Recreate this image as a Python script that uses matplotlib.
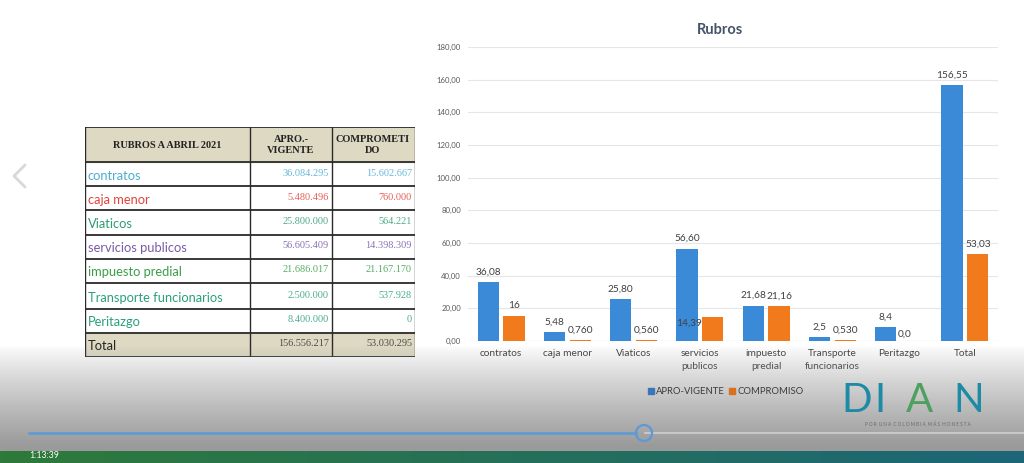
import matplotlib
matplotlib.use("Agg")
import matplotlib.pyplot as plt
from matplotlib.patches import Rectangle, Circle
import numpy as np

# chart data (millions)
categorias = ["contratos", "caja menor", "Viaticos", "servicios\npublicos",
              "impuesto\npredial", "Transporte\nfuncionarios", "Peritazgo", "Total"]
apro_vigente = [36.08, 5.48, 25.80, 56.60, 21.68, 2.5, 8.4, 156.55]
compromiso = [15.60, 0.760, 0.560, 14.39, 21.16, 0.530, 0.0, 53.03]
apro_labels = ["36,08", "5,48", "25,80", "56,60", "21,68", "2,5", "8,4", "156,55"]
comp_labels = ["16", "0,760", "0,560", "14,39", "21,16", "0,530", "0,0", "53,03"]
yticks = [0, 20, 40, 60, 80, 100, 120, 140, 160, 180]

# table data
rubros = ["contratos", "caja menor", "Viaticos", "servicios publicos",
          "impuesto predial", "Transporte funcionarios", "Peritazgo", "Total"]
tabla_apro = ["36.084.295", "5.480.496", "25.800.000", "56.605.409",
              "21.686.017", "2.500.000", "8.400.000", "156.556.217"]
tabla_comp = ["15.602.667", "760.000", "564.221", "14.398.309",
              "21.167.170", "537.928", "0", "53.030.295"]
row_colors = ["#4aaed0", "#e0443a", "#2e9c70", "#7a5aa6",
              "#3a9e48", "#2a9f7c", "#2a9f7c", "#222222"]

W, H = 1024, 463
fig = plt.figure(figsize=(W / 100, H / 100), dpi=100)
fig.patch.set_facecolor("white")


def box(x0, y0, x1, y1):
    # pixel box -> figure rect
    return [x0 / W, 1 - y1 / H, (x1 - x0) / W, (y1 - y0) / H]


# ---------------- table ----------------
tx = fig.add_axes(box(85, 127, 415, 357))
tx.set_xlim(85, 415)
tx.set_ylim(357, 127)
tx.axis("off")
cols = [85, 250, 332, 415]
rows = [127, 162, 186, 210, 235, 259, 283, 309, 333, 357]
tan = "#ddd9c3"
tx.add_patch(Rectangle((85, 127), 330, 35, color=tan, zorder=0))
tx.add_patch(Rectangle((85, 333), 330, 24, color=tan, zorder=0))
for y in rows:
    tx.plot([85, 415], [y, y], color="#2a2a2a", lw=1.3, zorder=2)
for x in cols:
    tx.plot([x, x], [127, 357], color="#2a2a2a", lw=1.0, zorder=2)
hdr = dict(family="Liberation Serif", weight="bold", fontsize=7.4,
           color="#222222", ha="center", va="center")
tx.text(167, 146, "RUBROS A ABRIL 2021", **hdr)
tx.text(291, 145, "APRO.-\nVIGENTE", linespacing=1.4, **hdr)
tx.text(373, 145, "COMPROMETI\nDO", linespacing=1.4, **hdr)
for i, name in enumerate(rubros):
    yc = (rows[i + 1] + rows[i + 2]) / 2
    tx.text(88, yc + 1.5, name, family="Lato", fontsize=9.3,
            color=row_colors[i], ha="left", va="center")
    ncol = row_colors[i] if i < 7 else "#333333"
    tx.text(329, yc - 1, tabla_apro[i], family="Liberation Serif",
            fontsize=7.4, color=ncol, ha="right", va="center", alpha=0.85)
    tx.text(412, yc - 1, tabla_comp[i], family="Liberation Serif",
            fontsize=7.4, color=ncol, ha="right", va="center", alpha=0.85)

# ---------------- chart ----------------
ax = fig.add_axes(box(468, 47, 998, 341))
x = np.arange(len(categorias))
bw = 0.32
blue, orange = "#3a8ad8", "#f07a1c"
ax.bar(x - 0.195, apro_vigente, bw, color=blue, zorder=3)
ax.bar(x + 0.195, compromiso, bw, color=orange, zorder=3)
lab = dict(family="Lato", fontsize=7.3, color="#404040", ha="center", va="bottom")
for i in range(len(x)):
    ax.annotate(apro_labels[i], (x[i] - 0.195, apro_vigente[i]),
                xytext=(0, 4), textcoords="offset points", **lab)
    off = {3: (-17, -7), 6: (-5, 2)}.get(i, (0, 4))
    ax.annotate(comp_labels[i], (x[i] + 0.195, compromiso[i]),
                xytext=off, textcoords="offset points", zorder=4, **lab)
ax.set_ylim(0, 180)
ax.set_xlim(-0.5, len(x) - 0.5)
ax.set_yticks(yticks)
ax.set_yticklabels([f"{v:.2f}".replace(".", ",") for v in yticks],
                   family="Lato", fontsize=5.6, color="#595959")
ax.set_xticks(x)
ax.set_xticklabels(categorias, family="Lato", fontsize=7.3, color="#404040",
                   linespacing=1.5)
ax.tick_params(length=0, pad=6)
ax.tick_params(axis="y", pad=5)
ax.grid(axis="y", color="#e6e6e6", lw=0.8, zorder=0)
for s in ax.spines.values():
    s.set_visible(False)
ax.axhline(0, color="#d0d0d0", lw=0.8, zorder=2)
fig.text(720 / W, 1 - 30 / H, "Rubros", family="Lato", weight="bold",
         fontsize=10.5, color="#44546a", ha="center", va="center")

# ---------------- video overlay ----------------
ov = fig.add_axes([0, 0, 1, 1])
ov.set_xlim(0, W)
ov.set_ylim(H, 0)
ov.axis("off")
ov.patch.set_alpha(0)
yy = np.arange(H)
alpha = np.clip((yy - 345) / 100, 0, 1) ** 0.85 * 0.88
img = np.zeros((H, 1, 4))
img[:, 0, :3] = 0.55
img[:, 0, 3] = alpha
ov.imshow(img, extent=(0, W, H, 0), aspect="auto", zorder=1)
# bottom strip
strip = np.zeros((1, 256, 3))
c0 = np.array([0x2e, 0x7a, 0x3a]) / 255
c1 = np.array([0x1c, 0x66, 0x78]) / 255
for k in range(256):
    strip[0, k] = c0 + (c1 - c0) * k / 255
ov.imshow(strip, extent=(0, W, 463, 451), aspect="auto", zorder=2)

# legend
ov.add_patch(Rectangle((648, 388), 6, 6, color="#3a76b8", zorder=3))
ov.text(656, 391.5, "APRO-VIGENTE", family="Lato", fontsize=6.8,
        color="#3c3c3c", va="center", zorder=3)
ov.add_patch(Rectangle((729, 388), 6, 6, color="#d8701c", zorder=3))
ov.text(737, 391.5, "COMPROMISO", family="Lato", fontsize=6.8,
        color="#3c3c3c", va="center", zorder=3)

# DIAN logo
teal, green = "#1d8aa6", "#4fa060"
logo = dict(family="Lato", weight="normal", fontsize=29,
            va="center", ha="center", zorder=3)
ov.text(857, 400, "D", color=teal, **logo)
ov.text(880, 400, "I", color=teal, **logo)
ov.text(919, 400, "A", color=green, **logo)
ov.text(969, 400, "N", color=teal, **logo)
ov.text(918, 424, "P O R  U N A  C O L O M B I A  M Á S  H O N E S T A",
        family="Lato", fontsize=3.3, color="#6a6a6a", ha="center",
        va="center", zorder=3)

# progress bar
ov.plot([645, W], [433, 433], color="#cfcfcf", lw=1.2, zorder=3)
ov.plot([29, 636], [433, 433], color="#5a9ad8", lw=1.8, zorder=4)
ov.add_patch(Circle((644, 433), 8, fill=False, ec="#5a9ad8", lw=1.6, zorder=4))
ov.text(29, 455, "1:13:39", family="Lato", fontsize=6.3, color="white",
        va="center", ha="left", zorder=4)

# left chevron
ov.plot([25, 14, 25], [165, 176, 187], color="#d8d8d8", lw=2.0,
        solid_capstyle="round", zorder=3)

fig.savefig("out.png", dpi=100)
